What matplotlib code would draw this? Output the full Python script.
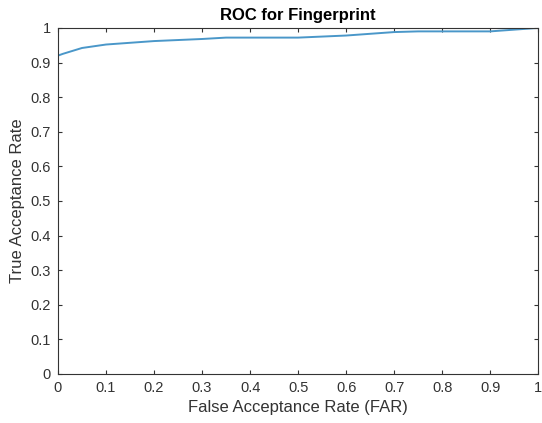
import matplotlib

matplotlib.use("Agg")
import matplotlib.pyplot as plt

# ROC curve points
far = [0.0, 0.0, 0.01, 0.05, 0.10, 0.20, 0.30, 0.35, 0.50, 0.60, 0.70, 0.75, 0.90, 1.0]
tar = [0.0, 0.92, 0.925, 0.942, 0.952, 0.962, 0.968, 0.972, 0.972, 0.978, 0.988, 0.99, 0.99, 1.0]
ticks = [0, 0.1, 0.2, 0.3, 0.4, 0.5, 0.6, 0.7, 0.8, 0.9, 1]
tick_labels = ["0", "0.1", "0.2", "0.3", "0.4", "0.5", "0.6", "0.7", "0.8", "0.9", "1"]

plt.rcParams["font.family"] = ["Liberation Sans", "DejaVu Sans"]

fig = plt.figure(figsize=(5.42, 4.23), dpi=100)
ax = fig.add_axes([0.107, 0.116, 0.886, 0.818])
ax.plot(far, tar, color="#4a97c9", linewidth=1.4)

ax.set_xlim(0, 1)
ax.set_ylim(0, 1)
ax.set_xticks(ticks)
ax.set_xticklabels(tick_labels)
ax.set_yticks(ticks)
ax.set_yticklabels(tick_labels)
ax.tick_params(direction="in", length=3, labelsize=10.5, colors="#333333",
               top=True, right=True, pad=5)
for s in ax.spines.values():
    s.set_color("#333333")
    s.set_linewidth(0.8)

ax.set_title("ROC for Fingerprint", fontsize=12, fontweight="bold", pad=6)
ax.set_xlabel("False Acceptance Rate (FAR)", fontsize=12, color="#333333")
ax.set_ylabel("True Acceptance Rate", fontsize=12, color="#333333")

fig.savefig("out.png", dpi=100)
